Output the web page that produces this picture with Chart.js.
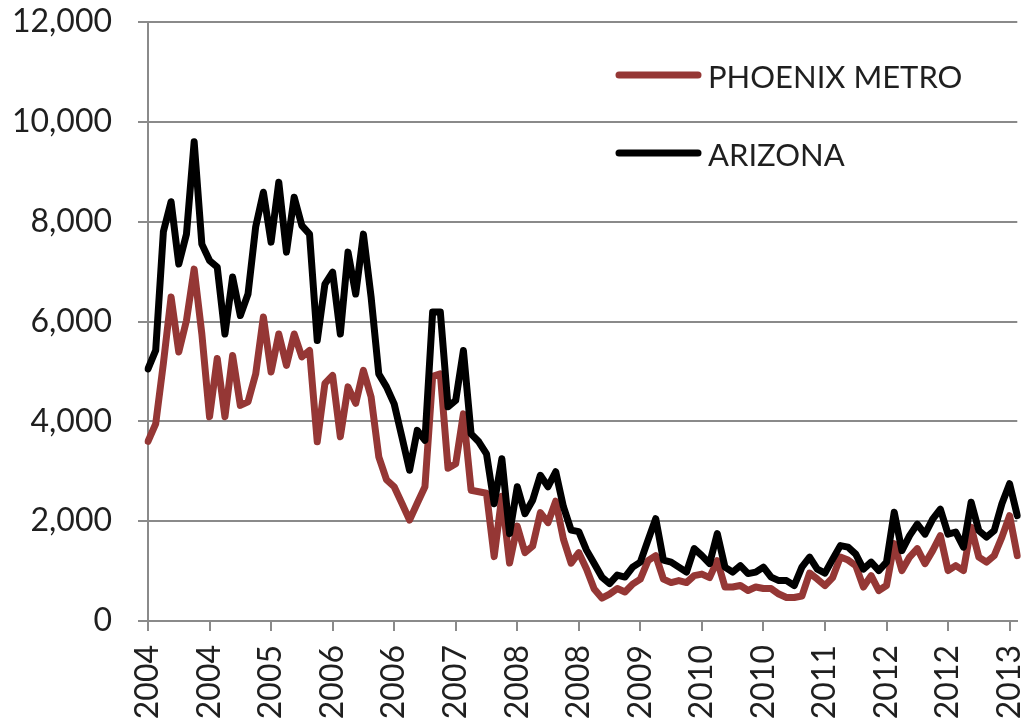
<!DOCTYPE html>
<html>
<head>
<meta charset="utf-8">
<script src="https://cdn.jsdelivr.net/npm/chart.js@4.4.1/dist/chart.umd.min.js"></script>
<style>
  html, body { margin: 0; background: #fff; overflow: hidden; width: 1027px; height: 721px; }
  /* the canvas is a bit bigger than the window so Chart.js' label padding falls off-screen */
  #chart { display: block; margin-top: -20px; }
</style>
</head>
<body>
<canvas id="chart" width="1062" height="741"></canvas>
<script>
'use strict';
// monthly series, Jan 2004 .. Jun 2013
const startYear = 2004;
const monthCount = 114;
const tickLabels = ['2004', '2004', '2005', '2006', '2006', '2007', '2008', '2008',
  '2009', '2010', '2010', '2011', '2012', '2012', '2013'];
const tickEvery = 8;

const phoenixMetro = [
  3600, 3950, 5160, 6490, 5390, 6020, 7050, 5750, 4090, 5260,
  4090, 5320, 4320, 4390, 4950, 6090, 4990, 5750, 5120, 5750,
  5290, 5420, 3590, 4760, 4920, 3690, 4690, 4360, 5020, 4490,
  3290, 2830, 2690, 2360, 2020, 2360, 2690, 4900, 4950, 3060,
  3150, 4150, 2620, 2590, 2560, 1290, 2500, 1160, 1900, 1370,
  1500, 2170, 1970, 2400, 1640, 1160, 1370, 1040, 640, 460,
  540, 650, 580, 740, 840, 1210, 1310, 840, 770, 810,
  770, 910, 940, 870, 1210, 680, 680, 710, 610, 680,
  650, 650, 540, 470, 470, 500, 960, 840, 710, 870,
  1280, 1220, 1110, 680, 910, 610, 710, 1550, 1010, 1280,
  1450, 1150, 1410, 1710, 1010, 1110, 1010, 1880, 1280, 1180,
  1310, 1680, 2110, 1310
];
const arizona = [
  5050, 5420, 7800, 8400, 7150, 7750, 9600, 7550, 7220, 7090,
  5750, 6890, 6120, 6550, 7900, 8590, 7590, 8790, 7390, 8490,
  7920, 7750, 5620, 6750, 6990, 5750, 7390, 6550, 7750, 6490,
  4950, 4690, 4350, 3690, 3020, 3820, 3620, 6190, 6190, 4290,
  4420, 5420, 3750, 3590, 3350, 2350, 3250, 1750, 2690, 2150,
  2420, 2920, 2690, 2990, 2290, 1820, 1790, 1420, 1150, 880,
  750, 920, 880, 1080, 1180, 1620, 2050, 1220, 1180, 1080,
  980, 1450, 1310, 1150, 1750, 1080, 980, 1110, 950, 980,
  1080, 880, 810, 810, 710, 1080, 1280, 1040, 960, 1240,
  1510, 1480, 1340, 1040, 1180, 1010, 1180, 2180, 1410, 1710,
  1940, 1740, 2040, 2240, 1740, 1780, 1480, 2380, 1810, 1680,
  1810, 2350, 2750, 2110
];

const months = [];
for (let i = 0; i < monthCount; i++) {
  const y = startYear + Math.floor(i / 12);
  const m = (i % 12) + 1;
  months.push(y + '-' + (m < 10 ? '0' : '') + m);
}

const axisGray = '#8a8a8a';
const textColor = '#1f1f1f';
const fontFamily = 'Lato, "Open Sans", sans-serif';

// legend drawn inside the plot, top right (canvas coords, canvas sits 20px up)
const insideLegend = {
  id: 'insideLegend',
  afterDatasetsDraw(chart) {
    const ctx = chart.ctx;
    const entries = [
      { ds: chart.data.datasets[1], y: 95 },
      { ds: chart.data.datasets[0], y: 173 }
    ];
    ctx.save();
    ctx.font = '31px ' + fontFamily;
    ctx.textBaseline = 'middle';
    ctx.textAlign = 'left';
    entries.forEach(e => {
      ctx.strokeStyle = e.ds.borderColor;
      ctx.lineWidth = 7;
      ctx.lineCap = 'round';
      ctx.beginPath();
      ctx.moveTo(619, e.y);
      ctx.lineTo(698, e.y);
      ctx.stroke();
      ctx.fillStyle = textColor;
      ctx.fillText(e.ds.label, 708, e.y + 3);
    });
    ctx.restore();
  }
};

const data = {
  labels: months,
  datasets: [{
    label: 'ARIZONA',
    data: arizona,
    borderColor: '#000000',
    borderWidth: 7,
    order: 0
  }, {
    label: 'PHOENIX METRO',
    data: phoenixMetro,
    borderColor: '#953735',
    borderWidth: 7,
    order: 1
  }]
};

const chartConfig = {
  type: 'line',
  data: data,
  options: {
    responsive: false,
    animation: false,
    layout: { padding: 0 },
    elements: {
      point: { radius: 0 },
      line: { tension: 0, borderJoinStyle: 'round', borderCapStyle: 'round' }
    },
    plugins: { legend: { display: false }, tooltip: { enabled: false } },
    scales: {
      x: {
        offset: false,
        grid: { drawOnChartArea: false, drawTicks: true, tickLength: 10, color: axisGray, lineWidth: 2 },
        border: { color: axisGray, width: 2 },
        ticks: {
          autoSkip: false,
          maxRotation: 90,
          minRotation: 90,
          padding: 14,
          color: textColor,
          font: { family: fontFamily, size: 32 },
          callback: (val, idx) => (idx % tickEvery === 0 ? tickLabels[idx / tickEvery] : null)
        },
        afterFit: scale => { scale.height = 100; }
      },
      y: {
        min: 0,
        max: 12000,
        grid: { color: axisGray, lineWidth: 2, tickLength: 10 },
        border: { color: axisGray, width: 2 },
        ticks: {
          stepSize: 2000,
          padding: 26,
          color: textColor,
          font: { family: fontFamily, size: 32, lineHeight: 1.0 },
          callback: v => v.toLocaleString('en-US')
        },
        afterFit: scale => { scale.width = 148; }
      }
    }
  },
  plugins: [insideLegend]
};

new Chart(document.getElementById('chart'), chartConfig);
</script>
</body>
</html>
